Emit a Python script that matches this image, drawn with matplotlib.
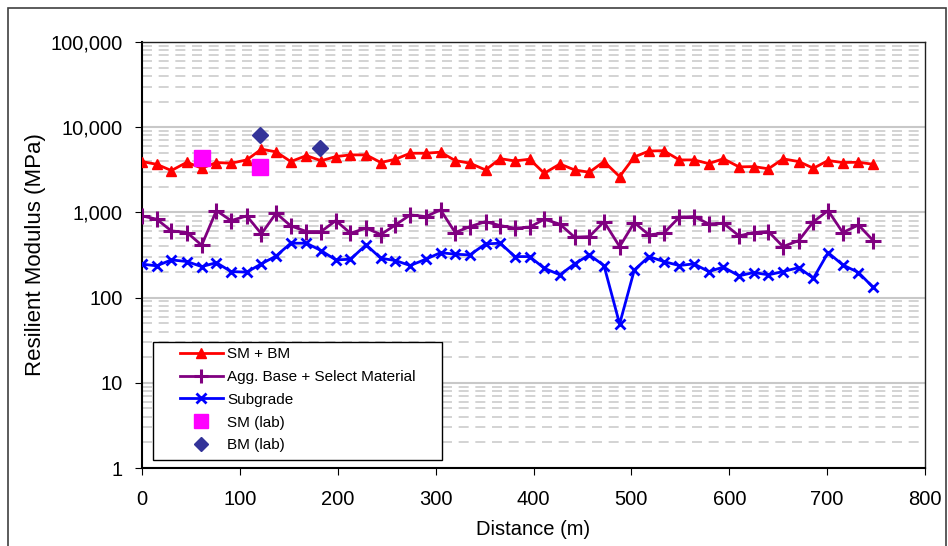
import matplotlib
matplotlib.use("Agg")
import matplotlib.pyplot as plt
from matplotlib.patches import Rectangle
from matplotlib.ticker import FixedLocator, FuncFormatter, NullFormatter

plt.rcParams['font.family'] = ['Liberation Sans', 'DejaVu Sans']

distance = [0, 15, 30, 46, 61, 76, 91, 107, 122, 137, 152, 168, 183, 198, 213, 229,
            244, 259, 274, 290, 305, 320, 335, 351, 366, 381, 396, 411, 427, 442, 457,
            472, 488, 503, 518, 533, 549, 564, 579, 594, 610, 625, 640, 655, 671, 686,
            701, 716, 732, 747]

sm_bm = [3950, 3670, 3100, 3880, 3300, 3850, 3780, 4130, 5520, 5130, 3950, 4640, 4040,
         4520, 4730, 4730, 3850, 4210, 4950, 4950, 5090, 4060, 3780, 3150, 4270, 4020,
         4210, 2880, 3700, 3150, 2960, 3950, 2630, 4480, 5250, 5300, 4130, 4130, 3740,
         4260, 3420, 3450, 3250, 4250, 3950, 3300, 4060, 3850, 3880, 3670]

agg_base = [910, 832, 607, 580, 412, 1050, 801, 910, 560, 979, 695, 596, 596, 801, 570,
            653, 550, 713, 935, 893, 1070, 580, 681, 779, 700, 653, 670, 832, 727, 512,
            520, 779, 397, 759, 545, 570, 879, 893, 733, 747, 530, 580, 596, 397, 467,
            779, 1050, 580, 713, 467]

subgrade = [247, 236, 277, 265, 231, 257, 202, 199, 249, 308, 435, 435, 356, 277, 282,
            416, 290, 272, 238, 282, 337, 323, 317, 427, 435, 303, 303, 221, 185, 249,
            317, 238, 49, 211, 303, 265, 238, 249, 202, 228, 180, 197, 185, 202, 225,
            169, 337, 242, 197, 132]

sm_lab_x = [61, 121]
sm_lab_y = [4330, 3400]
bm_lab_x = [121, 182]
bm_lab_y = [8130, 5680]

y_ticks = [1, 10, 100, 1000, 10000, 100000]
x_ticks = [0, 100, 200, 300, 400, 500, 600, 700, 800]

fig = plt.figure(figsize=(9.48, 5.46), dpi=100)
ax = fig.add_axes([142/948, 1-468/546, (925-142)/948, (468-42)/546])

# outer frame
fig.patches.append(Rectangle((8/948, -0.02), (946-8)/948, 1.02 - 8/546,
                             transform=fig.transFigure, fill=False,
                             edgecolor='#404040', lw=1.2))

ax.set_yscale('log')
ax.set_ylim(1, 100000)
ax.set_xlim(0, 800)

# grid
ax.yaxis.set_major_locator(FixedLocator(y_ticks))
minors = [m * 10**e for e in range(0, 5) for m in range(2, 10)]
ax.yaxis.set_minor_locator(FixedLocator(minors))
ax.yaxis.set_major_formatter(FuncFormatter(lambda v, p: f"{int(round(v)):,}"))
ax.yaxis.set_minor_formatter(NullFormatter())
ax.grid(True, which='major', axis='y', color='#c8c8c8', lw=1.5, ls='-')
ax.grid(True, which='minor', axis='y', color='#cccccc', lw=1.2, ls=(0, (6, 4)))
ax.tick_params(axis='y', which='minor', length=0)
ax.tick_params(axis='y', which='major', length=5, direction='out', labelsize=14.5, pad=9)
ax.xaxis.set_major_locator(FixedLocator(x_ticks))
ax.tick_params(axis='x', which='major', length=5, direction='out', labelsize=14.5, pad=11)
ax.set_axisbelow(True)

for s in ['top', 'right']:
    ax.spines[s].set_color('#202020')
    ax.spines[s].set_linewidth(1.0)
for s in ['left', 'bottom']:
    ax.spines[s].set_color('black')
    ax.spines[s].set_linewidth(1.5)

ax.plot(distance, sm_bm, color='#ff0000', lw=2, marker='^', ms=7.5,
        mec='#ff0000', mfc='#ff0000', label='SM + BM', zorder=3)
ax.plot(distance, agg_base, color='#800080', lw=2, marker='+', ms=11, mew=2.2,
        label='Agg. Base + Select Material', zorder=3)
ax.plot(distance, subgrade, color='#0000ff', lw=2, marker='x', ms=7, mew=2,
        label='Subgrade', zorder=3)
ax.plot(sm_lab_x, sm_lab_y, ls='none', marker='s', ms=11, color='#ff00ff',
        label='SM (lab)', zorder=4)
ax.plot(bm_lab_x, bm_lab_y, ls='none', marker='D', ms=8, color='#333399',
        label='BM (lab)', zorder=4)

ax.set_xlabel('Distance (m)', fontsize=14.5, labelpad=8)
ax.set_ylabel('Resilient Modulus (MPa)', fontsize=16, labelpad=3)

# legend box
ax.add_patch(Rectangle((0.014, 0.019), 0.369, 0.277, transform=ax.transAxes,
                       facecolor='white', edgecolor='black', lw=1.0, zorder=5))
leg = ax.legend(loc='upper left', bbox_to_anchor=(0.0485, 0.284),
                frameon=False, fontsize=11, handlelength=2.8, borderpad=0,
                labelspacing=0.58, handletextpad=0.3, borderaxespad=0,
                markerscale=0.95)
leg.set_zorder(6)

fig.savefig('out.png', dpi=100)
